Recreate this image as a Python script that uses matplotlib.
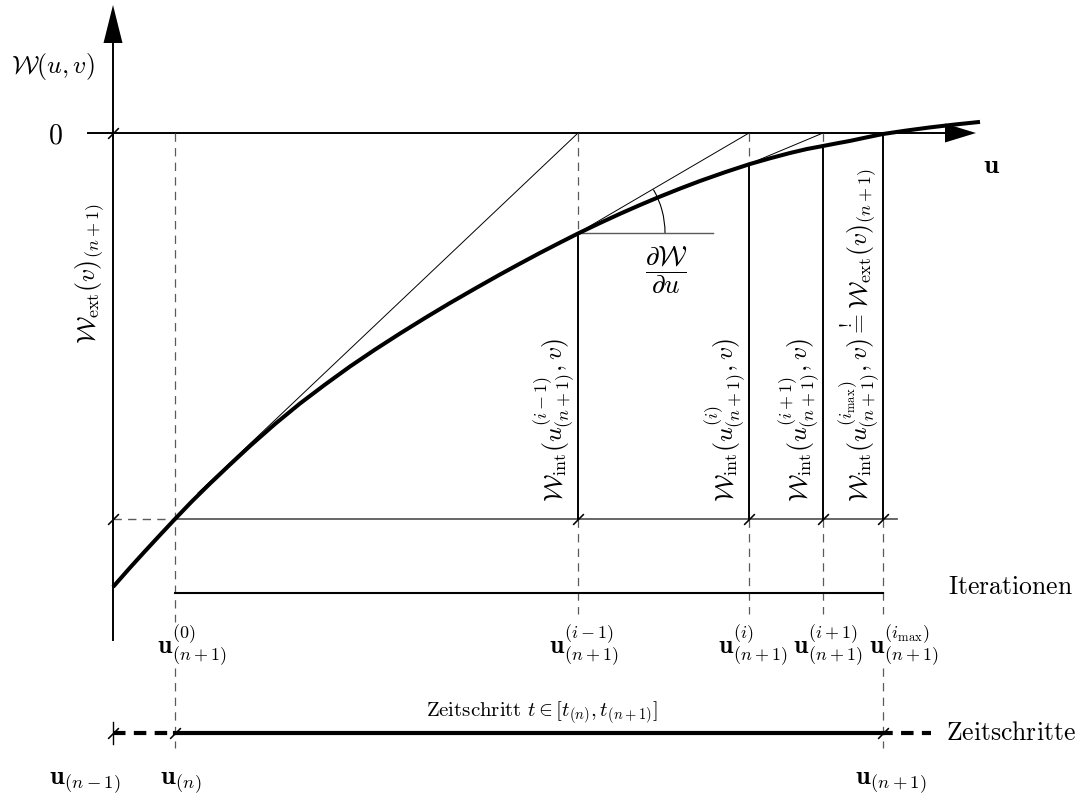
import matplotlib
matplotlib.use("Agg")
import matplotlib.pyplot as plt
from matplotlib.patches import Arc, Polygon

plt.rcParams['mathtext.fontset'] = 'cm'
plt.rcParams['lines.scale_dashes'] = False

# ---------------- data (picture units: u to the right, W downward) ----------------
curve_u = [113, 130, 145, 160, 175, 192, 210, 230, 250, 275, 300, 325, 350, 375, 400,
           425, 450, 475, 500, 520, 540, 560, 578, 600, 620, 640, 660, 680, 700, 725,
           750, 770, 790, 807, 823, 837, 850, 866, 883, 906, 930, 955, 980]
curve_W = [587, 567.7, 551.2, 535.0, 519.0, 501.3, 483.6, 464.6, 446.0, 424.0, 403.5,
           384.6, 366.5, 349.6, 333.5, 318.0, 303.0, 288.6, 274.5, 263.6, 252.9, 242.6,
           233.5, 223.0, 213.8, 205.0, 196.6, 188.6, 181.0, 172.2, 164.0, 158.3, 153.0,
           149.0, 146.0, 143.3, 140.9, 137.5, 134.0, 130.6, 127.4, 124.5, 121.9]

iter_u = [175, 578, 749, 823, 883]          # u^(0), u^(i-1), u^(i), u^(i+1), u^(imax)
iter_W = [519, 233, 164, 146, 133]          # W on the curve at those iterates
step_u = [113, 175, 883]                    # u_(n-1), u_(n), u_(n+1)
W_zero = 133                                # W = 0 level
W_base = 519                                # level of W at u^(0)

tangent_from_u = [198, 578, 749]
tangent_from_W = [493, 233, 164]
tangent_to_u = [578, 749, 823]

iter_labels = [r'$\mathbf{u}_{(n+1)}^{(0)}$', r'$\mathbf{u}_{(n+1)}^{(i-1)}$',
               r'$\mathbf{u}_{(n+1)}^{(i)}$', r'$\mathbf{u}_{(n+1)}^{(i+1)}$',
               r'$\mathbf{u}_{(n+1)}^{(i_{\mathrm{max}})}$']
step_labels = [r'$\mathbf{u}_{(n-1)}$', r'$\mathbf{u}_{(n)}$', r'$\mathbf{u}_{(n+1)}$']
wint_labels = [r'$\mathcal{W}_{\mathrm{int}}(u^{(i-1)}_{(n+1)},v)$',
               r'$\mathcal{W}_{\mathrm{int}}(u^{(i)}_{(n+1)},v)$',
               r'$\mathcal{W}_{\mathrm{int}}(u^{(i+1)}_{(n+1)},v)$',
               r'$\mathcal{W}_{\mathrm{int}}(u^{(i_{\mathrm{max}})}_{(n+1)},v)\overset{!}{=}\mathcal{W}_{\mathrm{ext}}(v)_{(n+1)}$']

# ---------------- layout ----------------
W_PX, H_PX = 1085, 798
fig = plt.figure(figsize=(W_PX / 100, H_PX / 100), dpi=100)
ax = fig.add_axes([0, 0, 1, 1])
ax.set_xlim(0, W_PX)
ax.set_ylim(H_PX, 0)
ax.axis('off')

FS = 18.5
K = 'black'
G = '#5a5a5a'
dash_thin = (0, (6, 4.5))

y_axis_bottom, y_axis_top, y_head = 640, 43, 5
x_axis_left, x_axis_right, x_head = 88, 945, 976
head_hw = 9.5
iter_row = 593
step_row = 733

# axes with arrow heads
ax.plot([step_u[0], step_u[0]], [y_axis_bottom, y_axis_top], color=K, lw=1.4)
ax.add_patch(Polygon([[step_u[0] - head_hw, y_axis_top], [step_u[0] + head_hw, y_axis_top],
                      [step_u[0], y_head]], closed=True, color=K, lw=0))
ax.plot([x_axis_left, x_axis_right], [W_zero, W_zero], color=K, lw=1.4)
ax.add_patch(Polygon([[x_axis_right, W_zero - head_hw], [x_axis_right, W_zero + head_hw],
                      [x_head, W_zero]], closed=True, color=K, lw=0))

# horizontal base line at W(u^(0))
ax.plot([step_u[0], iter_u[0]], [W_base, W_base], color=G, lw=1.0, ls=dash_thin)
ax.plot([iter_u[0], iter_u[-1] + 14], [W_base, W_base], color=G, lw=1.3)

# vertical lines at iterates
ax.plot([iter_u[0], iter_u[0]], [W_zero, 622], color=G, lw=0.9, ls=dash_thin)
ax.plot([iter_u[0], iter_u[0]], [668, 748], color=G, lw=0.9, ls=dash_thin)
for k in range(1, 4):
    ax.plot([iter_u[k], iter_u[k]], [W_zero, iter_W[k]], color=G, lw=0.9, ls=dash_thin)
    ax.plot([iter_u[k], iter_u[k]], [iter_W[k], W_base], color=K, lw=1.4)
    ax.plot([iter_u[k], iter_u[k]], [W_base, 614], color=G, lw=0.9, ls=dash_thin)
ax.plot([iter_u[4], iter_u[4]], [W_zero, W_base], color=K, lw=1.4)
ax.plot([iter_u[4], iter_u[4]], [W_base, 614], color=G, lw=0.9, ls=dash_thin)
ax.plot([iter_u[4], iter_u[4]], [668, 748], color=G, lw=0.9, ls=dash_thin)

# tangents
for a, b, c in zip(tangent_from_u, tangent_from_W, tangent_to_u):
    ax.plot([a, c], [b, W_zero], color=K, lw=0.7)

# angle marker at u^(i-1)
ax.plot([iter_u[1], iter_u[1] + 135], [iter_W[1], iter_W[1]], color=G, lw=1.0)
ax.add_patch(Arc((iter_u[1], iter_W[1]), 174, 174, theta1=-30, theta2=0, color=K, lw=0.8))
ax.text(iter_u[1] + 88, 270, r'$\dfrac{\partial\mathcal{W}}{\partial u}$', fontsize=FS + 1,
        ha='center', va='center')

# main curve
ax.plot(curve_u, curve_W, color=K, lw=2.9, solid_capstyle='butt', solid_joinstyle='round')

# iteration row
ax.plot([iter_u[0], iter_u[-1]], [iter_row, iter_row], color=K, lw=1.5)
ax.text(948, iter_row - 6, r'$\mathrm{Iterationen}$', fontsize=FS, ha='left', va='center')

# time step row
ax.plot([step_u[1], step_u[2]], [step_row, step_row], color=K, lw=3.0)
ax.plot([step_u[0], step_u[1]], [step_row, step_row], color=K, lw=3.0, ls=(0, (9, 6)))
ax.plot([step_u[2], step_u[2] + 48], [step_row, step_row], color=K, lw=3.0, ls=(2, (9, 6)))
ax.plot([step_u[0], step_u[0]], [step_row - 11, step_row + 11], color=K, lw=1.0)
ax.text(946, step_row, r'$\mathrm{Zeitschritte}$', fontsize=FS, ha='left', va='center')
ax.text(542, 713, r'$\mathrm{Zeitschritt}\ t \in [t_{(n)}, t_{(n+1)}]$', fontsize=15,
        ha='center', va='center')

# slash ticks
tick_u = [step_u[0], step_u[0]] + iter_u[1:] + step_u
tick_W = [W_zero, W_base] + [W_base] * 4 + [step_row] * 3
ax.plot(tick_u, tick_W, ls='none', marker=(2, 2, -45), ms=11, mew=0.8, color=K)

# labels
ax.text(55, 135, r'$0$', fontsize=FS + 1.5, ha='center', va='center')
ax.text(53, 67, r'$\mathcal{W}(u,v)$', fontsize=FS, ha='center', va='center')
ax.text(992, 166, r'$\mathbf{u}$', fontsize=FS + 1, ha='center', va='center')
ax.text(90, 274, r'$\mathcal{W}_{\mathrm{ext}}(v)_{(n+1)}$', fontsize=FS, rotation=90,
        ha='center', va='center')

iter_label_x = [192, 584, 753, 828, 904]
for x, s in zip(iter_label_x, iter_labels):
    ax.text(x, 645, s, fontsize=FS, ha='center', va='center')

step_label_x = [85, 181, 891]
for x, s in zip(step_label_x, step_labels):
    ax.text(x, 783, s, fontsize=FS + 0.5, ha='center', va='center')

for u, s in zip(iter_u[1:], wint_labels):
    ax.text(u - 2, 502, s, fontsize=FS, rotation=90, ha='right', va='bottom')

fig.savefig('out.png', dpi=100)
